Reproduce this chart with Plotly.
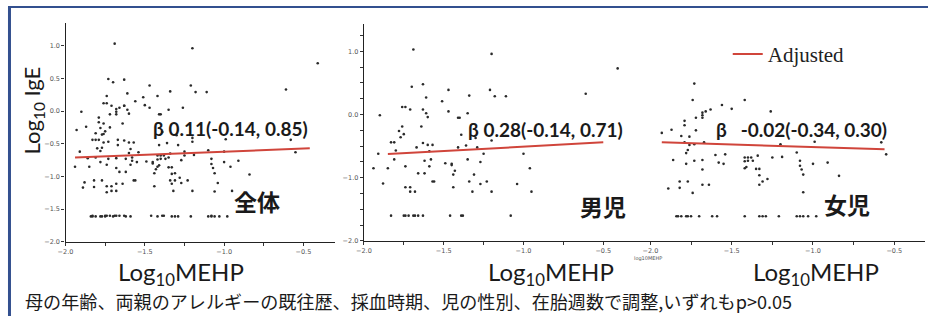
import plotly.graph_objects as go

# ---------------- data ----------------
boys_x = [-0.41, -1.69, -1.20, -1.70, -1.63, -1.61, -1.47, -1.34, -1.21, -1.18, -1.11, -0.61,
          -1.51, -1.76, -1.74, -1.71, -1.63, -1.61, -1.60, -1.47, -1.35, -1.41, -1.40, -1.90,
          -1.76, -1.78, -1.75, -1.77, -1.81, -1.83, -1.64, -1.39, -1.30, -1.63, -1.60, -1.57,
          -1.67, -1.41, -1.36, -1.29, -1.20, -1.91, -1.80, -1.59, -1.25, -1.00, -1.81, -1.62,
          -1.58, -1.35, -1.27, -1.49, -1.45, -1.45, -1.74, -1.59, -1.94, -1.85, -0.96, -1.66,
          -1.62, -1.43, -1.44, -1.31, -1.57, -1.56, -1.34, -1.23, -1.88, -1.27, -1.04, -1.74,
          -1.71, -1.44, -1.71, -1.68, -1.32, -1.20, -0.95,
          -1.83, -1.75, -1.74, -1.72, -1.69, -1.68, -1.66, -1.63, -1.46, -1.39, -1.38, -1.08]
boys_y = [0.73, 1.03, 0.96, 0.44, 0.48, 0.27, 0.39, 0.30, 0.39, 0.29, 0.29, 0.33,
          0.21, 0.12, 0.12, 0.08, 0.08, 0.02, -0.04, 0.05, 0.02, -0.05, -0.05, -0.01,
          -0.19, -0.26, -0.31, -0.36, -0.44, -0.44, -0.19, -0.32, -0.37, -0.45, -0.48, -0.48,
          -0.52, -0.52, -0.49, -0.52, -0.41, -0.62, -0.57, -0.58, -0.62, -0.62, -0.71, -0.73,
          -0.71, -0.71, -0.75, -0.77, -0.78, -0.80, -0.82, -0.82, -0.85, -0.85, -0.85, -0.93,
          -0.93, -0.89, -0.95, -0.95, -1.06, -1.06, -1.06, -1.06, -1.09, -1.10, -1.10, -1.15,
          -1.15, -1.15, -1.22, -1.22, -1.22, -1.22, -1.22,
          -1.60, -1.60, -1.60, -1.60, -1.60, -1.60, -1.60, -1.60, -1.60, -1.60, -1.60, -1.60]

girls_x = [-1.73, -1.74, -1.42, -1.56, -1.50, -1.63, -1.66, -1.68, -1.68, -1.68, -1.72, -1.79,
           -1.79, -1.26, -1.72, -1.87, -1.93, -1.81, -1.76, -1.79, -1.76, -1.73, -1.67, -1.20,
           -0.99, -0.58, -0.55, -1.77, -1.78, -1.60, -1.54, -1.42, -1.40, -1.38, -1.34, -1.25,
           -1.19, -1.10, -1.86, -1.73, -1.68, -1.58, -1.55, -1.42, -1.40, -1.37, -1.08, -1.00,
           -0.91, -1.78, -1.08, -1.68, -1.42, -1.41, -1.35, -1.33, -1.07, -1.06, -1.33, -1.28,
           -1.31, -0.84, -1.82, -1.77, -1.33, -1.68, -1.64, -1.89, -1.82, -1.74, -1.06,
           -1.84, -1.83, -1.81, -1.78, -1.77, -1.75, -1.70, -1.62, -1.59, -1.42, -1.33, -1.31,
           -1.29, -1.21, -1.10, -1.08, -1.06, -1.03, -0.98]
girls_y = [0.49, 0.23, 0.23, 0.15, 0.09, 0.08, 0.05, 0.03, -0.01, -0.05, -0.05, -0.10,
           -0.17, 0.05, -0.25, -0.24, -0.29, -0.34, -0.35, -0.44, -0.48, -0.47, -0.44, -0.47,
           -0.43, -0.44, -0.63, -0.56, -0.61, -0.64, -0.63, -0.68, -0.68, -0.68, -0.65, -0.68,
           -0.67, -0.60, -0.72, -0.73, -0.72, -0.76, -0.78, -0.74, -0.73, -0.73, -0.73, -0.78,
           -0.76, -0.78, -0.81, -0.87, -0.85, -0.83, -0.86, -0.86, -0.87, -0.95, -0.96, -1.02,
           -1.06, -0.97, -1.06, -1.06, -1.11, -1.11, -1.11, -1.17, -1.16, -1.24, -1.23,
           -1.61, -1.61, -1.61, -1.61, -1.61, -1.61, -1.61, -1.61, -1.61, -1.61, -1.61, -1.61,
           -1.61, -1.61, -1.61, -1.61, -1.61, -1.61, -1.61]

# whole sample = boys + girls
all_x = boys_x + girls_x
all_y = boys_y + girls_y

# adjusted regression lines (end points)
fit_all_x, fit_all_y = [-1.94, -0.46], [-0.71, -0.57]
fit_boys_x, fit_boys_y = [-1.85, -0.50], [-0.625, -0.44]
fit_girls_x, fit_girls_y = [-1.93, -0.56], [-0.44, -0.55]

beta_labels = ["β 0.11(-0.14, 0.85)", "β 0.28(-0.14, 0.71)", "β\u00a0\u00a0\u00a0-0.02(-0.34, 0.30)"]
group_labels = ["全体", "男児", "女児"]
x_title = "Log<sub>10</sub>MEHP"
y_title = "Log<sub>10</sub> IgE"
footnote = "母の年齢、両親のアレルギーの既往歴、採血時期、児の性別、在胎週数で調整,いずれもp>0.05"

# ---------------- figure ----------------
W, H = 928, 320
def px_x(p): return p / W
def px_y(p): return 1 - p / H

RED = "#d0453b"
DOT = "#2a2a2a"

fig = go.Figure()
panels = [
    (all_x, all_y, fit_all_x, fit_all_y, "x", "y"),
    (boys_x, boys_y, fit_boys_x, fit_boys_y, "x2", "y2"),
    (girls_x, girls_y, fit_girls_x, fit_girls_y, "x3", "y3"),
]
for i, (sx, sy, fx, fy, xa, ya) in enumerate(panels):
    fig.add_trace(go.Scatter(x=sx, y=sy, mode="markers", xaxis=xa, yaxis=ya,
                             marker=dict(size=2.6, color=DOT), showlegend=False,
                             hoverinfo="skip"))
    fig.add_trace(go.Scatter(x=fx, y=fy, mode="lines", xaxis=xa, yaxis=ya,
                             line=dict(color=RED, width=2), name="Adjusted",
                             showlegend=(i == 2)))

tickfont = dict(family="DejaVu Sans", size=6.5, color="#555")
axis_common = dict(showgrid=False, zeroline=False, showline=True, linecolor="#222",
                   linewidth=1.4, ticks="outside", ticklen=3, tickcolor="#333",
                   tickwidth=1, tickfont=tickfont, tickformat=".1f")
minor_ticks = dict(dtick=0.25, ticks="outside", ticklen=3, tickcolor="#333")

fig.update_layout(
    width=W, height=H, autosize=False,
    margin=dict(l=0, r=0, t=0, b=0),
    paper_bgcolor="white", plot_bgcolor="white",
    xaxis=dict(axis_common, domain=[px_x(58), px_x(330)], range=[-2.0, -0.3],
               anchor="y", tick0=-2.0, dtick=0.5, minor=minor_ticks),
    yaxis=dict(axis_common, domain=[px_y(245), px_y(23)], range=[-2.0, 1.35],
               anchor="x", tick0=-2.0, dtick=0.5),
    xaxis2=dict(axis_common, domain=[px_x(359), px_x(637)], range=[-2.0, -0.273],
                anchor="y2", tick0=-2.0, dtick=0.5, minor=minor_ticks),
    yaxis2=dict(axis_common, domain=[px_y(244), px_y(24)], range=[-2.0, 1.4375],
                anchor="x2", tick0=-2.0, dtick=1.0, minor=minor_ticks),
    xaxis3=dict(axis_common, domain=[px_x(637), px_x(925)], range=[-2.067, -0.311],
                anchor="y3", tick0=-2.0, dtick=0.5, minor=minor_ticks),
    yaxis3=dict(domain=[px_y(244), px_y(24)], range=[-2.0, 1.4375], anchor="x3",
                visible=False),
    legend=dict(x=px_x(726), y=px_y(55), xanchor="left", yanchor="middle",
                bgcolor="rgba(0,0,0,0)",
                font=dict(family="Liberation Serif", size=21, color="#222")),
    showlegend=True,
)

beta_pos = [("x", "y", -0.96, -0.27), ("x2", "y2", -0.86, -0.23), ("x3", "y3", -1.07, -0.23)]
group_pos = [("x", "y", -0.79, -1.37), ("x2", "y2", -0.50, -1.44), ("x3", "y3", -0.79, -1.42)]
for txt, (xa, ya, bx, by) in zip(beta_labels, beta_pos):
    fig.add_annotation(text=txt, x=bx, y=by, xref=xa, yref=ya, showarrow=False,
                       xanchor="center", yanchor="middle",
                       font=dict(family="Lato", size=19, color="#1a1a1a", weight="bold"))
for txt, (xa, ya, gx, gy) in zip(group_labels, group_pos):
    fig.add_annotation(text=txt, x=gx, y=gy, xref=xa, yref=ya, showarrow=False,
                       xanchor="center", yanchor="middle",
                       font=dict(family="Noto Sans CJK JP", size=23, color="#1a1a1a",
                                 weight="bold"))

# axis titles
fig.add_annotation(text=y_title, textangle=-90, x=px_x(25), y=px_y(112),
                   xref="paper", yref="paper", showarrow=False,
                   xanchor="center", yanchor="middle",
                   font=dict(family="Lato", size=22, color="#1a1a1a"))
for cx in [175, 548, 815]:
    fig.add_annotation(text=x_title, x=px_x(cx), y=px_y(277), xref="paper", yref="paper",
                       xanchor="center", yanchor="middle", showarrow=False,
                       font=dict(family="Lato", size=24, color="#1a1a1a"))
fig.add_annotation(text="log10MEHP", x=px_x(646), y=px_y(262), xref="paper", yref="paper",
                   xanchor="center", yanchor="middle", showarrow=False,
                   font=dict(family="DejaVu Sans", size=5, color="#555"))
fig.add_annotation(text=footnote, x=px_x(15), y=px_y(305), xref="paper", yref="paper",
                   xanchor="left", yanchor="middle", showarrow=False,
                   font=dict(family="Noto Sans CJK JP", size=18.1, color="#1a1a1a"))

# slide frame
fig.add_shape(type="line", xref="paper", yref="paper", x0=0, x1=1, y0=px_y(7), y1=px_y(7),
              line=dict(color="#33508f", width=2))
fig.add_shape(type="line", xref="paper", yref="paper", x0=px_x(1.5), x1=px_x(1.5),
              y0=0, y1=px_y(7), line=dict(color="#33508f", width=3))

fig.write_html("out.html", config={"displayModeBar": False},
               post_script="document.body.style.margin='0px';document.body.style.overflow='hidden';")
